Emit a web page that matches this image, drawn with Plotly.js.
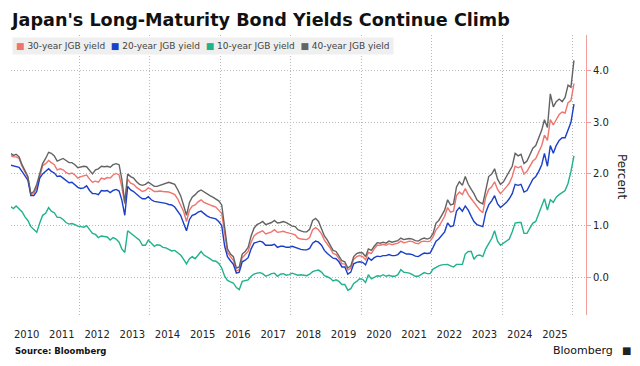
<!DOCTYPE html>
<html>
<head>
<meta charset="utf-8">
<script src="https://cdn.plot.ly/plotly-3.0.1.min.js"></script>
<style>html,body{margin:0;padding:0;background:#fff;}#chart{width:640px;height:366px;}</style>
</head>
<body>
<div id="chart"></div>
<script>
// Series names (legend order) and colours
const seriesNames = ["30-year JGB yield", "20-year JGB yield", "10-year JGB yield", "40-year JGB yield"];
const seriesColors = ["#f0736c", "#1a3fc9", "#1fb28c", "#636363"];

// Monthly observation months: Jan 2010 .. Jan 2026 (mid-month)
const firstYear = 2010, lastYear = 2025;
const dates = [];
for (let y = firstYear; y <= lastYear; y++) {
  for (let m = 1; m <= 12; m++) dates.push(y + "-" + String(m).padStart(2, "0") + "-15");
}
dates.push("2026-01-15");

// Values (percent), one row per year
const yield30 = [
  2.36, 2.33, 2.33, 2.30, 2.15, 2.02, 1.93, 1.60, 1.62, 1.74, 1.98, 2.16,
  2.20, 2.26, 2.22, 2.18, 2.08, 2.10, 2.08, 2.03, 2.00, 2.02, 1.98, 1.92,
  1.95, 1.96, 1.98, 1.90, 1.84, 1.86, 1.84, 1.92, 1.90, 1.93, 1.92, 1.98,
  2.01, 1.98, 1.75, 1.42, 1.90, 1.82, 1.80, 1.74, 1.69, 1.66, 1.68, 1.73,
  1.70, 1.66, 1.66, 1.67, 1.66, 1.66, 1.65, 1.63, 1.60, 1.52, 1.40, 1.28,
  1.08, 1.30, 1.38, 1.40, 1.46, 1.50, 1.45, 1.42, 1.40, 1.38, 1.36, 1.30,
  1.24, 0.85, 0.48, 0.40, 0.33, 0.12, 0.15, 0.38, 0.45, 0.50, 0.68, 0.80,
  0.85, 0.88, 0.90, 0.84, 0.86, 0.88, 0.92, 0.87, 0.88, 0.89, 0.87, 0.86,
  0.84, 0.82, 0.76, 0.74, 0.74, 0.73, 0.77, 0.92, 0.96, 0.92, 0.84, 0.72,
  0.64, 0.56, 0.46, 0.44, 0.36, 0.26, 0.26, 0.14, 0.18, 0.35, 0.40, 0.42,
  0.40, 0.34, 0.48, 0.46, 0.55, 0.62, 0.62, 0.64, 0.62, 0.65, 0.63, 0.64,
  0.66, 0.70, 0.67, 0.68, 0.70, 0.69, 0.66, 0.65, 0.69, 0.70, 0.69, 0.70,
  0.78, 0.92, 0.98, 1.08, 1.18, 1.35, 1.26, 1.28, 1.58, 1.65, 1.60, 1.72,
  1.60, 1.52, 1.45, 1.38, 1.30, 1.25, 1.55, 1.70, 1.75, 1.85, 1.70, 1.62,
  1.68, 1.75, 1.82, 1.95, 2.15, 2.12, 2.15, 2.00, 2.05, 2.15, 2.25, 2.30,
  2.42, 2.55, 2.75, 2.65, 3.05, 2.95, 3.05, 3.15, 3.20, 3.18, 3.38, 3.42,
  3.75
];
const yield20 = [
  2.17, 2.16, 2.15, 2.13, 2.05, 1.95, 1.88, 1.58, 1.58, 1.66, 1.92, 2.00,
  2.05, 2.10, 2.05, 2.02, 1.95, 1.96, 1.92, 1.88, 1.83, 1.84, 1.78, 1.74,
  1.72, 1.73, 1.77, 1.68, 1.62, 1.62, 1.60, 1.68, 1.67, 1.68, 1.64, 1.68,
  1.70, 1.67, 1.50, 1.20, 1.76, 1.69, 1.66, 1.60, 1.56, 1.52, 1.52, 1.56,
  1.50, 1.47, 1.46, 1.46, 1.44, 1.43, 1.41, 1.40, 1.36, 1.28, 1.20, 1.05,
  0.90, 1.12, 1.20, 1.22, 1.26, 1.28, 1.23, 1.19, 1.16, 1.14, 1.13, 1.08,
  1.00, 0.60, 0.40, 0.32, 0.25, 0.08, 0.10, 0.30, 0.33, 0.38, 0.55, 0.66,
  0.68, 0.70, 0.68, 0.62, 0.62, 0.62, 0.64, 0.58, 0.60, 0.60, 0.58, 0.58,
  0.60, 0.58, 0.55, 0.54, 0.53, 0.53, 0.56, 0.66, 0.70, 0.68, 0.62, 0.52,
  0.46, 0.42, 0.37, 0.36, 0.30, 0.20, 0.20, 0.06, 0.10, 0.26, 0.29, 0.30,
  0.29, 0.24, 0.38, 0.33, 0.38, 0.41, 0.40, 0.42, 0.42, 0.44, 0.42, 0.42,
  0.44, 0.50, 0.47, 0.45, 0.45, 0.44, 0.41, 0.40, 0.44, 0.47, 0.46, 0.47,
  0.58, 0.70, 0.74, 0.82, 0.88, 1.05, 0.98, 1.00, 1.28, 1.35, 1.28, 1.38,
  1.30, 1.18, 1.08, 1.02, 1.00, 0.98, 1.25, 1.40, 1.48, 1.58, 1.42, 1.35,
  1.40, 1.45, 1.52, 1.62, 1.80, 1.78, 1.80, 1.65, 1.68, 1.78, 1.90, 1.95,
  2.05, 2.18, 2.40, 2.15, 2.55, 2.40, 2.55, 2.65, 2.70, 2.70, 2.85, 3.00,
  3.35
];
const yield10 = [
  1.37, 1.33, 1.38, 1.33, 1.27, 1.17, 1.10, 0.98, 0.92, 0.87, 1.05, 1.20,
  1.24, 1.35, 1.28, 1.25, 1.16, 1.16, 1.12, 1.06, 1.03, 1.04, 1.02, 0.99,
  0.98, 0.97, 1.00, 0.92, 0.85, 0.83, 0.77, 0.80, 0.79, 0.78, 0.72, 0.77,
  0.74, 0.68, 0.55, 0.48, 0.90, 0.85, 0.82, 0.77, 0.72, 0.62, 0.62, 0.72,
  0.65, 0.60, 0.63, 0.62, 0.58, 0.57, 0.54, 0.51, 0.52, 0.47, 0.43, 0.35,
  0.26, 0.36, 0.40, 0.36, 0.42, 0.50, 0.43, 0.40, 0.36, 0.32, 0.31, 0.27,
  0.18, 0.02, -0.06, -0.09, -0.11, -0.20, -0.24, -0.08, -0.06, -0.05, 0.02, 0.06,
  0.08, 0.09, 0.07, 0.02, 0.04, 0.07, 0.08, 0.02, 0.06, 0.07, 0.04, 0.05,
  0.08, 0.06, 0.04, 0.05, 0.04, 0.03, 0.06, 0.11, 0.13, 0.14, 0.10, 0.03,
  0.01, -0.02, -0.07, -0.05, -0.08, -0.14, -0.14, -0.25, -0.22, -0.12, -0.08, -0.03,
  -0.04, -0.10, 0.05, -0.03, 0.00, 0.03, 0.02, 0.05, 0.02, 0.04, 0.02, 0.02,
  0.05, 0.15, 0.10, 0.09, 0.08, 0.05, 0.02, 0.02, 0.06, 0.09, 0.07, 0.07,
  0.16, 0.20, 0.22, 0.24, 0.24, 0.25, 0.22, 0.20, 0.25, 0.25, 0.25, 0.45,
  0.50, 0.50, 0.35, 0.42, 0.43, 0.40, 0.55, 0.65, 0.75, 0.90, 0.70, 0.62,
  0.66, 0.71, 0.74, 0.88, 1.05, 1.06, 1.06, 0.85, 0.85, 0.95, 1.05, 1.08,
  1.22, 1.38, 1.52, 1.30, 1.50, 1.45, 1.55, 1.60, 1.65, 1.68, 1.82, 2.05,
  2.35
];
const yield40 = [
  2.40, 2.36, 2.38, 2.33, 2.18, 2.05, 1.95, 1.62, 1.66, 1.80, 2.02, 2.20,
  2.30, 2.42, 2.40, 2.35, 2.25, 2.28, 2.30, 2.26, 2.22, 2.22, 2.18, 2.12,
  2.14, 2.15, 2.14, 2.06, 2.00, 2.08, 2.10, 2.15, 2.14, 2.15, 2.13, 2.18,
  2.20, 2.18, 1.90, 1.45, 2.00, 1.95, 1.92, 1.85, 1.80, 1.78, 1.80, 1.84,
  1.80, 1.76, 1.76, 1.78, 1.80, 1.82, 1.84, 1.82, 1.80, 1.70, 1.58, 1.40,
  1.20, 1.45, 1.55, 1.60, 1.66, 1.69, 1.65, 1.62, 1.58, 1.55, 1.52, 1.48,
  1.40, 0.95, 0.55, 0.45, 0.40, 0.18, 0.20, 0.45, 0.50, 0.58, 0.80, 0.95,
  1.02, 1.05, 1.08, 1.02, 1.04, 1.06, 1.10, 1.05, 1.06, 1.08, 1.06, 1.03,
  0.99, 0.98, 0.92, 0.90, 0.88, 0.88, 0.93, 1.10, 1.14, 1.08, 0.95, 0.80,
  0.72, 0.62, 0.52, 0.50, 0.42, 0.32, 0.30, 0.18, 0.22, 0.40, 0.46, 0.48,
  0.47, 0.40, 0.55, 0.52, 0.60, 0.67, 0.66, 0.68, 0.66, 0.70, 0.68, 0.69,
  0.71, 0.76, 0.73, 0.74, 0.75, 0.74, 0.71, 0.70, 0.74, 0.76, 0.74, 0.76,
  0.85, 1.05, 1.10, 1.20, 1.30, 1.50, 1.40, 1.42, 1.75, 1.85, 1.78, 1.95,
  1.80, 1.70, 1.62, 1.50, 1.45, 1.42, 1.70, 1.95, 2.00, 2.10, 1.90, 1.80,
  1.85, 1.95, 2.05, 2.15, 2.40, 2.35, 2.38, 2.20, 2.25, 2.38, 2.50, 2.55,
  2.70, 2.85, 3.05, 2.90, 3.55, 3.30, 3.40, 3.45, 3.40, 3.48, 3.72, 3.68,
  4.20
];
const seriesValues = [yield30, yield20, yield10, yield40];

const titleText = "Japan's Long-Maturity Bond Yields Continue Climb";
const sourceText = "Source: Bloomberg";
const brandText = "Bloomberg";
const yAxisTitle = "Percent";
const xRange = ["2010-01-21", "2026-05-20"];

const traces = seriesValues.map((vals, i) => ({
  type: "scatter",
  mode: "lines",
  name: seriesNames[i],
  x: dates,
  y: vals,
  line: {color: seriesColors[i], width: 1.4},
  hoverinfo: "skip"
}));
// helper trace so the 2-year gridline axis (x2) is drawn
traces.unshift({
  type: "scatter", mode: "lines", x: [dates[0]], y: [null],
  xaxis: "x2", yaxis: "y", showlegend: false, hoverinfo: "skip"
});

const legendText = seriesNames.map((n, i) =>
  "<span style='color:" + seriesColors[i] + "'>■</span>&nbsp;" + n
).join("&nbsp;&nbsp;");

const gridDash = "1px,2px";

const layout = {
  width: 640,
  height: 366,
  margin: {l: 11, r: 54, t: 35, b: 51, pad: 0},
  paper_bgcolor: "#ffffff",
  plot_bgcolor: "#ffffff",
  showlegend: false,
  font: {family: "DejaVu Sans", size: 10, color: "#222"},
  title: {
    text: "<b>" + titleText + "</b>",
    xref: "container", yref: "container",
    x: 12 / 640, xanchor: "left",
    y: 1 - 20 / 366, yanchor: "middle",
    font: {family: "DejaVu Sans", size: 17.6, color: "#111"}
  },
  xaxis: {
    type: "date",
    range: xRange,
    tick0: "2010-07-02",
    dtick: "M12",
    tickformat: "%Y",
    ticks: "outside",
    ticklen: 10,
    tickcolor: "rgba(0,0,0,0)",
    showgrid: false,
    zeroline: false,
    showline: false,
    tickfont: {size: 10, color: "#222"}
  },
  xaxis2: {
    type: "date",
    overlaying: "x",
    anchor: "y",
    range: xRange,
    tick0: "2010-01-01",
    dtick: "M24",
    showticklabels: false,
    ticks: "",
    showgrid: true,
    gridcolor: "#b8b8b8",
    griddash: gridDash,
    gridwidth: 1,
    zeroline: false,
    showline: false
  },
  yaxis: {
    side: "right",
    range: [-0.73, 4.69],
    tick0: 0,
    dtick: 1,
    tickformat: ".1f",
    showgrid: true,
    gridcolor: "#b8b8b8",
    griddash: gridDash,
    zeroline: false,
    showline: true,
    linecolor: "#f29c9c",
    linewidth: 1,
    ticks: "outside",
    ticklen: 4,
    tickcolor: "#f29c9c",
    tickfont: {size: 10, color: "#222"}
  },
  annotations: [
    {
      text: yAxisTitle, xref: "paper", yref: "paper",
      x: 1.0626, y: 0.493, xanchor: "center", yanchor: "middle",
      textangle: 90, showarrow: false,
      font: {family: "DejaVu Sans", size: 12, color: "#222"}
    },
    {
      text: legendText, xref: "paper", yref: "paper",
      x: 0.002, y: 0.961, xanchor: "left", yanchor: "middle",
      showarrow: false, bgcolor: "#efefef", borderpad: 3,
      font: {family: "DejaVu Sans", size: 9, color: "#444"}
    },
    {
      text: "<b>" + sourceText + "</b>", xref: "paper", yref: "paper",
      x: 0.004, y: -0.1286, xanchor: "left", yanchor: "middle",
      showarrow: false,
      font: {family: "DejaVu Sans", size: 8.5, color: "#111"}
    },
    {
      text: brandText, xref: "paper", yref: "paper",
      x: 1.0504, y: -0.125, xanchor: "right", yanchor: "middle",
      showarrow: false,
      font: {family: "DejaVu Sans", size: 11, color: "#111"}
    },
    {
      text: "■", xref: "paper", yref: "paper",
      x: 1.0696, y: -0.125, xanchor: "center", yanchor: "middle",
      showarrow: false,
      font: {family: "DejaVu Sans", size: 10, color: "#222"}
    }
  ]
};

Plotly.newPlot("chart", traces, layout, {displayModeBar: false, staticPlot: true});
</script>
</body>
</html>
